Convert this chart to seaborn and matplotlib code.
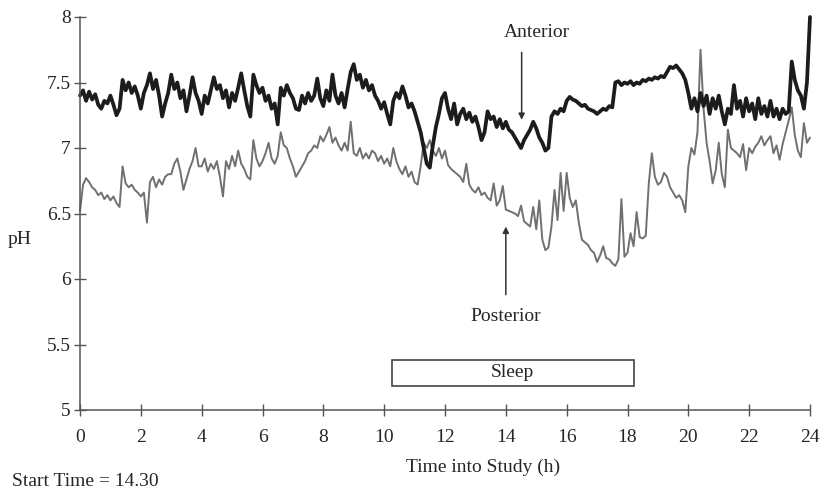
import numpy as np
import pandas as pd
import matplotlib
matplotlib.use("Agg")
import matplotlib.pyplot as plt
import seaborn as sns

# pH readings every 0.1 h over the 24 h study (one row per hour)
anterior_ph = [
    7.40, 7.44, 7.36, 7.43, 7.37, 7.41, 7.33, 7.30, 7.36, 7.34,
    7.40, 7.33, 7.25, 7.30, 7.52, 7.44, 7.50, 7.42, 7.47, 7.40,
    7.30, 7.42, 7.48, 7.57, 7.45, 7.52, 7.40, 7.24, 7.34, 7.42,
    7.56, 7.45, 7.50, 7.38, 7.44, 7.28, 7.40, 7.54, 7.42, 7.36,
    7.26, 7.40, 7.34, 7.44, 7.54, 7.45, 7.48, 7.38, 7.44, 7.31,
    7.42, 7.36, 7.46, 7.57, 7.44, 7.32, 7.24, 7.56, 7.48, 7.42,
    7.46, 7.36, 7.40, 7.30, 7.34, 7.18, 7.46, 7.40, 7.48, 7.42,
    7.38, 7.30, 7.29, 7.40, 7.34, 7.42, 7.36, 7.40, 7.53, 7.38,
    7.32, 7.44, 7.36, 7.56, 7.40, 7.34, 7.42, 7.31, 7.45, 7.58,
    7.64, 7.52, 7.56, 7.46, 7.52, 7.44, 7.48, 7.40, 7.36, 7.30,
    7.35, 7.26, 7.18, 7.36, 7.42, 7.38, 7.47, 7.40, 7.31, 7.34,
    7.28, 7.20, 7.12, 7.00, 6.88, 6.85, 7.02, 7.16, 7.26, 7.38,
    7.42, 7.30, 7.22, 7.34, 7.18, 7.26, 7.30, 7.22, 7.27, 7.20,
    7.24, 7.16, 7.06, 7.12, 7.28, 7.22, 7.24, 7.16, 7.22, 7.15,
    7.20, 7.14, 7.12, 7.08, 7.04, 7.00, 7.06, 7.10, 7.14, 7.20,
    7.15, 7.08, 7.04, 6.98, 7.00, 7.24, 7.28, 7.26, 7.30, 7.28,
    7.36, 7.39, 7.37, 7.36, 7.34, 7.32, 7.33, 7.30, 7.29, 7.28,
    7.26, 7.28, 7.30, 7.29, 7.32, 7.31, 7.50, 7.51, 7.48, 7.50,
    7.49, 7.51, 7.48, 7.50, 7.49, 7.52, 7.51, 7.53, 7.52, 7.54,
    7.53, 7.55, 7.54, 7.58, 7.62, 7.61, 7.63, 7.60, 7.57, 7.52,
    7.42, 7.30, 7.38, 7.28, 7.42, 7.32, 7.40, 7.26, 7.38, 7.30,
    7.40, 7.28, 7.18, 7.30, 7.26, 7.48, 7.30, 7.36, 7.24, 7.38,
    7.28, 7.34, 7.22, 7.38, 7.26, 7.32, 7.24, 7.36, 7.24, 7.30,
    7.22, 7.30, 7.26, 7.28, 7.66, 7.52, 7.44, 7.40, 7.30, 7.50,
    8.00,
]

posterior_ph = [
    6.52, 6.72, 6.77, 6.74, 6.70, 6.68, 6.64, 6.66, 6.61, 6.64,
    6.60, 6.63, 6.58, 6.55, 6.86, 6.73, 6.70, 6.72, 6.68, 6.66,
    6.63, 6.66, 6.43, 6.74, 6.78, 6.70, 6.76, 6.72, 6.78, 6.80,
    6.80, 6.88, 6.92, 6.82, 6.68, 6.76, 6.84, 6.90, 7.00, 6.86,
    6.86, 6.92, 6.82, 6.88, 6.84, 6.90, 6.78, 6.63, 6.90, 6.84,
    6.94, 6.86, 6.98, 6.88, 6.84, 6.78, 6.76, 7.06, 6.92, 6.86,
    6.90, 6.96, 7.04, 6.92, 6.88, 6.94, 7.12, 7.02, 7.00, 6.92,
    6.86, 6.78, 6.82, 6.86, 6.90, 6.96, 6.98, 7.02, 7.00, 7.09,
    7.05, 7.10, 7.16, 7.04, 7.08, 7.02, 6.98, 7.04, 6.98, 7.20,
    6.96, 6.94, 7.00, 6.92, 6.96, 6.92, 6.98, 6.96, 6.90, 6.94,
    6.88, 6.92, 6.86, 7.00, 6.90, 6.84, 6.80, 6.86, 6.78, 6.82,
    6.74, 6.72, 6.86, 7.04, 7.00, 7.06, 6.98, 6.94, 7.00, 6.92,
    6.98, 6.87, 6.84, 6.82, 6.80, 6.78, 6.74, 6.88, 6.72, 6.68,
    6.66, 6.70, 6.64, 6.66, 6.62, 6.60, 6.73, 6.56, 6.60, 6.71,
    6.53, 6.52, 6.51, 6.50, 6.48, 6.56, 6.44, 6.42, 6.40, 6.55,
    6.38, 6.60, 6.30, 6.22, 6.24, 6.40, 6.68, 6.45, 6.81, 6.52,
    6.81, 6.62, 6.55, 6.60, 6.43, 6.30, 6.28, 6.26, 6.22, 6.20,
    6.13, 6.18, 6.25, 6.16, 6.15, 6.12, 6.10, 6.15, 6.61, 6.17,
    6.20, 6.35, 6.25, 6.51, 6.32, 6.31, 6.33, 6.73, 6.96, 6.78,
    6.72, 6.74, 6.81, 6.78, 6.70, 6.66, 6.62, 6.64, 6.60, 6.51,
    6.86, 7.00, 6.95, 7.12, 7.75, 7.30, 7.04, 6.90, 6.73, 6.83,
    7.04, 6.80, 6.70, 7.14, 7.00, 6.98, 6.96, 6.93, 7.03, 6.83,
    7.00, 6.96, 7.01, 7.04, 7.09, 7.02, 7.06, 7.09, 6.96, 7.02,
    6.91, 7.03, 7.12, 7.21, 7.31, 7.10, 6.98, 6.93, 7.19, 7.04,
    7.08,
]

hours = np.round(np.arange(len(anterior_ph)) * 0.1, 1)

x_ticks = list(range(0, 25, 2))
y_ticks = [5, 5.5, 6, 6.5, 7, 7.5, 8]
y_tick_labels = ["5", "5.5", "6", "6.5", "7", "7.5", "8"]

sleep_start, sleep_end = 10.25, 18.2

df = pd.DataFrame({
    "hours": np.concatenate([hours, hours]),
    "pH": np.concatenate([anterior_ph, posterior_ph]),
    "site": ["Anterior"] * len(hours) + ["Posterior"] * len(hours),
})

sns.set_style("ticks")
plt.rcParams["font.family"] = ["Liberation Serif", "DejaVu Serif"]

FS = 14
TXT = "#262626"

fig = plt.figure(figsize=(8.22, 4.92), dpi=100)
ax = fig.add_axes([80 / 822, 1 - 410 / 492, 730 / 822, 393 / 492])

sns.lineplot(data=df[df.site == "Posterior"], x="hours", y="pH",
             color="#707070", lw=1.4, ax=ax, legend=False, clip_on=False)
sns.lineplot(data=df[df.site == "Anterior"], x="hours", y="pH",
             color="#1c1c1c", lw=2.7, ax=ax, legend=False, clip_on=False)

ax.set_xlim(0, 24)
ax.set_ylim(5, 8)
ax.set_xticks(x_ticks)
ax.set_xticklabels([str(t) for t in x_ticks])
ax.set_yticks(y_ticks)
ax.set_yticklabels(y_tick_labels)
ax.tick_params(axis="both", direction="inout", length=9, width=1,
               color="#555555", labelsize=FS, labelcolor=TXT)
ax.tick_params(axis="x", pad=9)
ax.tick_params(axis="y", pad=2)
for side in ("top", "right"):
    ax.spines[side].set_visible(False)
for side in ("left", "bottom"):
    ax.spines[side].set_color("#555555")
    ax.spines[side].set_linewidth(1.1)

ax.set_xlabel("")
ax.set_ylabel("")
fig.text(8 / 822, 1 - 240 / 492, "pH", fontsize=FS, color=TXT,
         ha="left", va="center")
fig.text(483 / 822, 1 - 467 / 492, "Time into Study (h)", fontsize=FS,
         color=TXT, ha="center", va="center")
fig.text(12 / 822, 1 - 482 / 492, "Start Time = 14.30", fontsize=FS,
         color=TXT, ha="left", va="center")

# sleep period box
ax.add_patch(plt.Rectangle((sleep_start, 5.185), sleep_end - sleep_start,
                           0.195, fill=False, edgecolor="#444444", lw=1.2))
ax.text((sleep_start + sleep_end) / 2, 5.283, "Sleep", fontsize=FS,
        ha="center", va="center", color=TXT)

# labelled arrows for the two recording sites
arrow = dict(arrowstyle="-|>", color="#333333", lw=1.1, mutation_scale=9,
             shrinkA=0, shrinkB=0)
ax.annotate("", xy=(14.52, 7.215), xytext=(14.52, 7.73), arrowprops=arrow)
ax.text(15.02, 7.885, "Anterior", fontsize=FS, ha="center", va="center",
        color=TXT)
ax.annotate("", xy=(14.0, 6.40), xytext=(14.0, 5.88), arrowprops=arrow)
ax.text(14.0, 5.71, "Posterior", fontsize=FS, ha="center", va="center",
        color=TXT)

fig.savefig("out.png", dpi=100)
